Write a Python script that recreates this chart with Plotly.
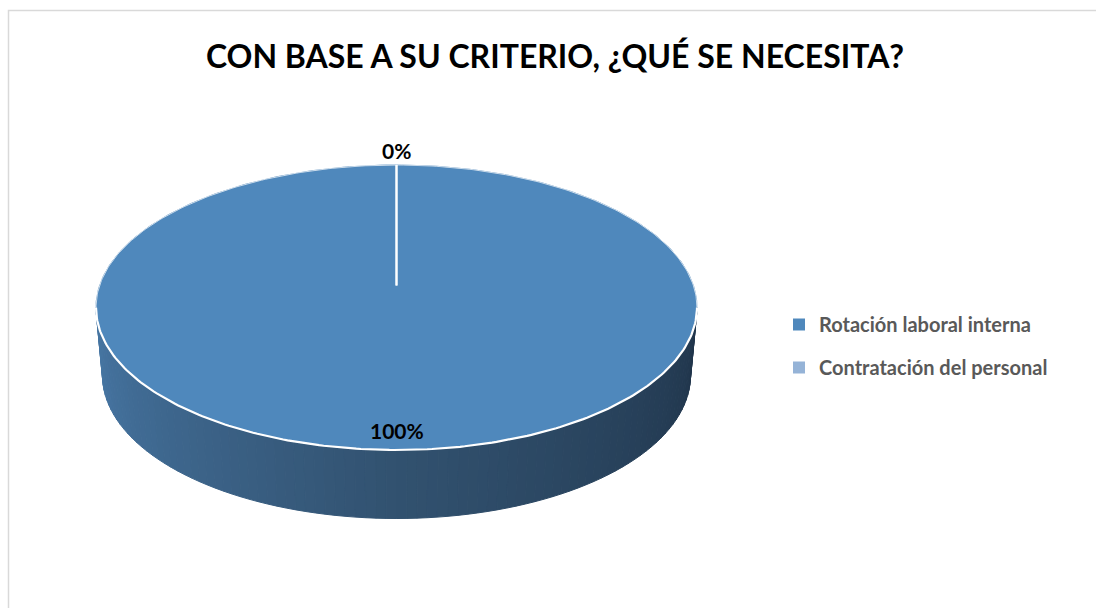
import numpy as np
import plotly.graph_objects as go

# ---- data ----
categories = ["Rotación laboral interna", "Contratación del personal"]
values = [100, 0]
labels_txt = ["100%", "0%"]
title_txt = "CON BASE A SU CRITERIO, ¿QUÉ SE NECESITA?"
colors_top = ["#4F88BC", "#95B3D7"]

# ---- geometry (pixel space, y downwards) ----
W, H = 1096, 608
cx, cy = 396.5, 307.5
rx, ry = 300.5, 142.5
depth = 68
rxb, ryb = 294, 143
vtx_y = cy - 22  # projected centre of the top face

def rim(th, bottom=False):
    if bottom:
        return cx + rxb * np.cos(th), cy + depth - ryb * np.sin(th)
    return cx + rx * np.cos(th), cy - ry * np.sin(th)

fig = go.Figure()

# side band with gradient (front half)
N = 90
ths = np.linspace(np.pi, 2 * np.pi, N + 1)
c_left = np.array([72, 120, 166])
c_mid = np.array([50, 82, 112])
c_right = np.array([32, 53, 75])
for i in range(N):
    t0, t1 = ths[i], ths[i + 1]
    xa0, ya0 = rim(t0)
    xa1, ya1 = rim(t1)
    xb1, yb1 = rim(t1, True)
    xb0, yb0 = rim(t0, True)
    f = (i + 0.5) / N
    if f < 0.5:
        c = c_left + (c_mid - c_left) * (f / 0.5)
    else:
        c = c_mid + (c_right - c_mid) * ((f - 0.5) / 0.5)
    col = "rgb(%d,%d,%d)" % tuple(c.astype(int))
    fig.add_trace(go.Scatter(x=[xa0, xa1, xb1, xb0, xa0], y=[ya0, ya1, yb1, yb0, ya0],
                             mode="lines", fill="toself", fillcolor=col,
                             line=dict(color=col, width=1), hoverinfo="skip", showlegend=False))

# top faces from values
total = sum(values)
cum = 0.0
bounds = []
for k, v in enumerate(values):
    a0 = np.pi / 2 - 2 * np.pi * cum / total
    cum += v
    a1 = np.pi / 2 - 2 * np.pi * cum / total
    bounds.append(a0)
    if v > 0:
        th = np.linspace(a0, a1, 361)
        xs, ys = rim(th)
        fig.add_trace(go.Scatter(x=np.r_[cx, xs, cx], y=np.r_[vtx_y, ys, vtx_y], mode="lines",
                                 fill="toself", fillcolor=colors_top[k],
                                 line=dict(color=colors_top[k], width=1),
                                 hoverinfo="skip", showlegend=False))

# white rim on the front edge
th = np.linspace(np.pi, 2 * np.pi, 200)
xs, ys = rim(th)
fig.add_trace(go.Scatter(x=xs, y=ys, mode="lines", line=dict(color="white", width=2.2),
                         hoverinfo="skip", showlegend=False))
th = np.linspace(0, np.pi, 200)
xs, ys = rim(th)
fig.add_trace(go.Scatter(x=xs, y=ys, mode="lines", line=dict(color="rgba(255,255,255,0.7)", width=1),
                         hoverinfo="skip", showlegend=False))

# slice boundary lines
for a in sorted(set(np.round(bounds, 9))):
    bx, by = rim(a)
    fig.add_trace(go.Scatter(x=[cx, bx], y=[vtx_y, by], mode="lines",
                             line=dict(color="white", width=2), hoverinfo="skip", showlegend=False))

# data labels
cum = 0.0
for k, v in enumerate(values):
    mid = np.pi / 2 - 2 * np.pi * (cum + v / 2) / total
    cum += v
    if v == total:
        lx, ly = cx, cy + ry - 20
    else:
        lx, ly = cx + rx * np.cos(mid), cy - (ry + 15) * np.sin(mid)
    fig.add_annotation(x=lx, y=ly, text="<b>%s</b>" % labels_txt[k], showarrow=False,
                       font=dict(family="Lato", size=21, color="black"))

# legend entries
for k, name in enumerate(categories):
    fig.add_trace(go.Scatter(x=[None], y=[None], mode="markers", name="<b>%s</b>" % name,
                             marker=dict(symbol="square", size=12, color=colors_top[k]),
                             legendgroup="g%d" % k))

fig.add_shape(type="rect", xref="paper", yref="paper", x0=8.5 / W, x1=1.05, y0=-0.05, y1=1 - 10.5 / H,
              line=dict(color="#D9D9D9", width=1.5), fillcolor="rgba(0,0,0,0)", layer="below")

fig.update_layout(
    width=W, height=H, margin=dict(l=0, r=0, t=0, b=0),
    paper_bgcolor="white", plot_bgcolor="white",
    xaxis=dict(range=[0, W], visible=False, fixedrange=True),
    yaxis=dict(range=[H, 0], visible=False, fixedrange=True),
    title=dict(text="<b>%s</b>" % title_txt, x=555 / W, xanchor="center", y=1 - 57 / H, yanchor="middle",
               font=dict(family="Lato", size=32, color="black")),
    legend=dict(x=779 / W, y=1 - 305 / H, xanchor="left", yanchor="top", tracegroupgap=14,
                font=dict(family="Lato", size=20, color="#595959"), bgcolor="rgba(0,0,0,0)"),
    showlegend=True,
)

fig.write_html("out.html")
